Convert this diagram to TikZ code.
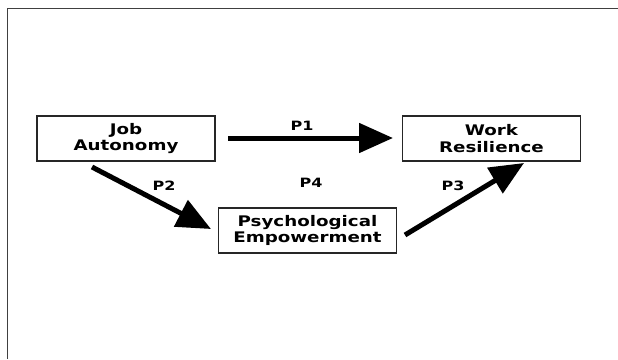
\documentclass[tikz,border=0pt]{standalone}
\usepackage{fontspec}
\setmainfont{DejaVu Sans}[FakeStretch=1.25]
\usetikzlibrary{arrows.meta}
\begin{document}
\begin{tikzpicture}[x=1pt,y=-1pt,
  box/.style={draw=black!85, line width=1.3pt, minimum width=178pt, minimum height=45pt,
    inner sep=0pt, align=center, font=\bfseries\fontsize{14.6}{16.5}\selectfont},
  lab/.style={font=\bfseries\fontsize{12.8}{14}\selectfont, inner sep=0pt},
  bigarrow/.style={line width=5pt, -{Triangle[length=34pt,width=29pt]}},
  frame/.style={draw=black!75, line width=0.9pt}]
\useasboundingbox (0,0) rectangle (618,359);
\draw[frame] (618,8) -- (7,8) -- (7,359);
\node[box] (ja) at (126,138.5) {Job\\Autonomy};
\node[box] (wr) at (491.5,138.5) {Work\\Resilience};
\node[box] (pe) at (307.5,230.5) {Psychological\\Empowerment};
\coordinate (p1s) at (228,138);
\coordinate (p1e) at (393,138);
\coordinate (p2s) at (92,167);
\coordinate (p2e) at (211,229);
\coordinate (p3s) at (405,235);
\coordinate (p3e) at (524,163);
\draw[bigarrow] (p1s) -- (p1e);
\draw[bigarrow] (p2s) -- (p2e);
\draw[bigarrow] (p3s) -- (p3e);
\node[lab] (l1) at (302,125.5) {P1};
\node[lab] (l2) at (164,186) {P2};
\node[lab] (l4) at (311,182.5) {P4};
\node[lab] (l3) at (453,186) {P3};
\end{tikzpicture}
\end{document}
